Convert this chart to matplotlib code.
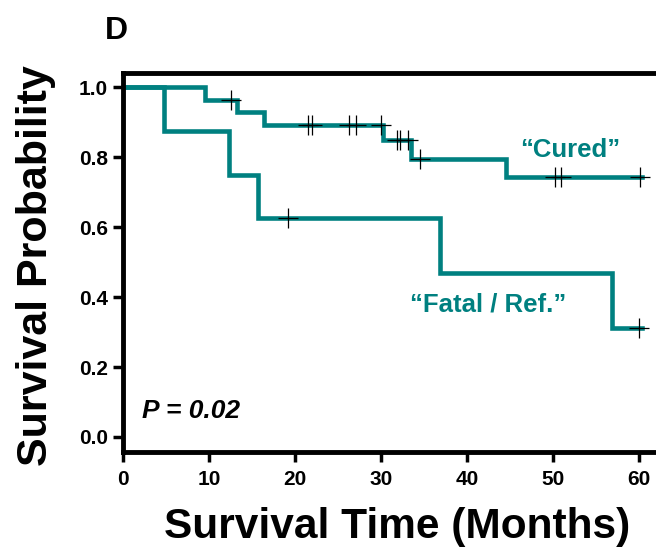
import numpy as np
import matplotlib
matplotlib.use('Agg')
import matplotlib.pyplot as plt

plt.rcParams['font.family'] = ['Liberation Sans', 'DejaVu Sans']

# Kaplan-Meier steps
cured_t = [0, 9.5, 13.3, 16.4, 30.2, 33.5, 44.6, 60.4]
cured_s = [1.0, 0.964, 0.929, 0.893, 0.849, 0.796, 0.743, 0.743]
cured_cens = [12.6, 21.5, 22.0, 26.3, 27.1, 30.0, 31.9, 32.2, 33.2, 34.6, 50.3, 50.9, 60.1]

fatal_t = [0, 4.8, 12.3, 15.7, 36.9, 56.9, 60.4]
fatal_s = [1.0, 0.875, 0.75, 0.625, 0.469, 0.3125, 0.3125]
fatal_cens = [19.2, 60.0]

teal = '#008080'


def surv_at(times, surv, t):
    idx = np.searchsorted(times, t, side='right') - 1
    return np.array(surv)[idx]


fig = plt.figure(figsize=(6.56, 5.56), dpi=100)
ax = fig.add_axes([0.1875, 0.187, 0.8125, 0.682])

for t, s, cens in [(cured_t, cured_s, cured_cens), (fatal_t, fatal_s, fatal_cens)]:
    ax.step(t, s, where='post', color=teal, lw=3.3, solid_joinstyle='miter')
    ax.plot(cens, surv_at(t, s, cens), '+', color='black', ms=15, mew=0.9)

ax.set_xlim(0, 62)
ax.set_ylim(-0.043, 1.041)
ax.set_xticks([0, 10, 20, 30, 40, 50, 60])
ax.set_yticks([0.0, 0.2, 0.4, 0.6, 0.8, 1.0])
ax.set_yticklabels(['0.0', '0.2', '0.4', '0.6', '0.8', '1.0'])

for side in ['left', 'bottom', 'top']:
    ax.spines[side].set_linewidth(3.5)
ax.spines['right'].set_visible(False)
ax.tick_params(width=2.5, length=7, labelsize=15, direction='out')
ax.tick_params(axis='x', pad=6)
ax.tick_params(axis='y', pad=4)
for lab in ax.get_xticklabels() + ax.get_yticklabels():
    lab.set_fontweight('bold')

ax.set_xlabel('Survival Time (Months)', fontsize=30.5, fontweight='bold')
ax.xaxis.set_label_coords(0.514, -0.145)

fig.text(0.055, 0.523, 'Survival Probability', rotation=90, fontsize=31,
         fontweight='bold', ha='center', va='center')

ax.text(2.2, 0.055, 'P = 0.02', fontsize=19, fontweight='bold', style='italic')
ax.text(46.2, 0.80, '\u201cCured\u201d', fontsize=18.5, fontweight='bold', color=teal)
ax.text(33.4, 0.36, '\u201cFatal / Ref.\u201d', fontsize=18.5, fontweight='bold', color=teal)

fig.text(0.16, 0.945, 'D', fontsize=23, fontweight='bold', ha='left', va='center')

fig.savefig('out.png', dpi=100)
